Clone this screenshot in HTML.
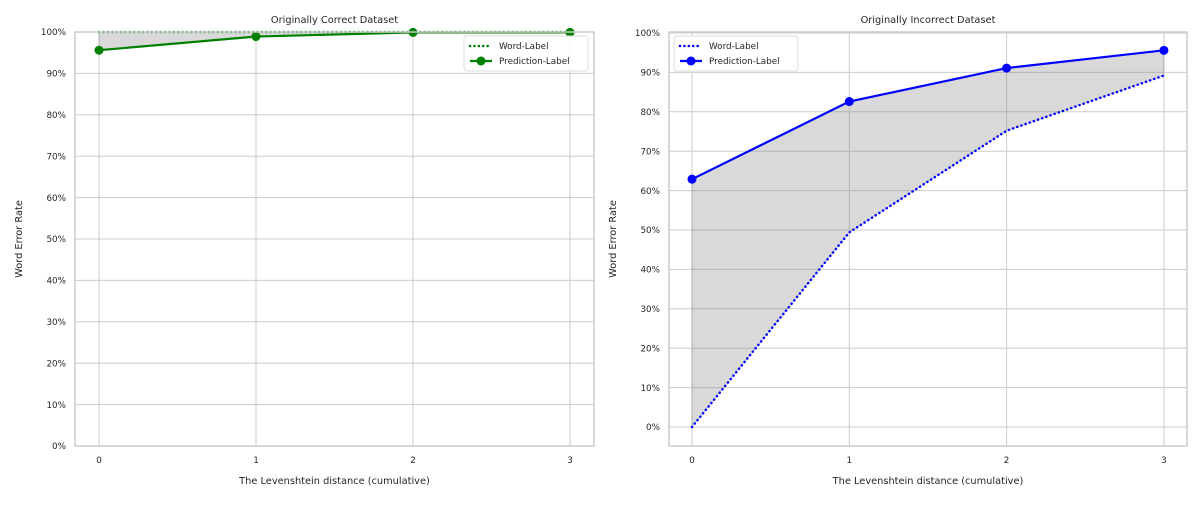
<!DOCTYPE html>
<html><head><meta charset="utf-8"><style>
body{margin:0;background:#fff;font-family:"Liberation Sans","DejaVu Sans",sans-serif;}
svg text{font-family:"DejaVu Sans","Liberation Sans",sans-serif;fill:#262626;}
</style></head><body>
<svg id="c" width="1200" height="500"></svg>
<script>
const categories=[0,1,2,3];
const yTicks=[0,10,20,30,40,50,60,70,80,90,100];
const leftWord=[100,100,100,100];
const leftPred=[95.6,98.9,99.9,99.9];
const rightWord=[0,49.4,75.2,89.2];
const rightPred=[62.9,82.6,91.1,95.6];
const NS="http://www.w3.org/2000/svg";
const svg=document.getElementById('c');
function mk(t,a,p){const e=document.createElementNS(NS,t);for(const k in a)e.setAttribute(k,a[k]);(p||svg).appendChild(e);return e;}
function panel(o){
  const g=mk('g',{});
  
  
  const xs=v=>o.x0+v*o.dx;
  const ys=v=>o.yBase-(v/100)*o.yh;
  categories.forEach(c=>{const l=mk('line',{x1:xs(c),x2:xs(c),y1:o.top,y2:o.bottom,stroke:'#cccccc','stroke-width':1},g);
    
    const t=mk('text',{x:xs(c),y:o.bottom+17,'font-size':8.8,'text-anchor':'middle'},g);t.textContent=c;
    });
  yTicks.forEach(v=>{const l=mk('line',{x1:o.left,x2:o.right,y1:ys(v),y2:ys(v),stroke:'#cccccc','stroke-width':1},g);
    
    const t=mk('text',{x:o.left-9,y:ys(v)+3.2,'font-size':8.8,'text-anchor':'end'},g);t.textContent=v+'%';
    });
  let pts=categories.map((c,i)=>xs(c)+','+ys(o.pred[i]));
  pts=pts.concat(categories.slice().reverse().map((c,j)=>{const i=categories.length-1-j;return xs(c)+','+ys(o.word[i]);}));
  const f=mk('polygon',{points:pts.join(' '),fill:'#808080','fill-opacity':0.3,stroke:'#808080','stroke-opacity':0.3},g);
  
  const wl=mk('polyline',{points:categories.map((c,i)=>xs(c)+','+ys(o.word[i])).join(' '),fill:'none',stroke:o.color,'stroke-width':2.5,'stroke-dasharray':'0.1,4.3','stroke-linecap':'round'},g);
  
  const pl=mk('polyline',{points:categories.map((c,i)=>xs(c)+','+ys(o.pred[i])).join(' '),fill:'none',stroke:o.color,'stroke-width':2.2},g);
  
  categories.forEach((c,i)=>{const m=mk('circle',{cx:xs(c),cy:ys(o.pred[i]),r:4.5,fill:o.color},g);
    });
  const fr=mk('rect',{x:o.left,y:o.top,width:o.right-o.left,height:o.bottom-o.top,fill:'none',stroke:'#cccccc','stroke-width':1.5},g);
  
  const ti=mk('text',{x:(o.left+o.right)/2,y:23,'font-size':9.8,'text-anchor':'middle'},g);ti.textContent=o.title;
  
  const xt=mk('text',{x:(o.left+o.right)/2,y:484,'font-size':9.8,'text-anchor':'middle'},g);xt.textContent='The Levenshtein distance (cumulative)';
  
  const yt=mk('text',{x:0,y:0,'font-size':9.8,'text-anchor':'middle',transform:`translate(${o.left-53},${(o.top+o.bottom)/2}) rotate(-90)`},g);yt.textContent='Word Error Rate';
  
  const lg=mk('g',{},g);
  mk('rect',{x:o.lx,y:o.ly,width:124,height:35,rx:3,fill:'#fff','fill-opacity':0.85,stroke:'#dddddd'},lg);
  mk('line',{x1:o.lx+6,x2:o.lx+28,y1:o.ly+10,y2:o.ly+10,stroke:o.color,'stroke-width':2.5,'stroke-dasharray':'0.1,4.3','stroke-linecap':'round'},lg);
  const t1=mk('text',{x:o.lx+35,y:o.ly+13,'font-size':8.8},lg);t1.textContent='Word-Label';
  
  mk('line',{x1:o.lx+6,x2:o.lx+28,y1:o.ly+25,y2:o.ly+25,stroke:o.color,'stroke-width':2.2},lg);
  mk('circle',{cx:o.lx+17,cy:o.ly+25,r:4.5,fill:o.color},lg);
  const t2=mk('text',{x:o.lx+35,y:o.ly+28,'font-size':8.8},lg);t2.textContent='Prediction-Label';
  
}
panel({name:'left-panel',title:'Originally Correct Dataset',left:75,right:594,top:32,bottom:446,x0:99,dx:157,yBase:446,yh:414,word:leftWord,pred:leftPred,color:'#008000',lx:464,ly:36});
panel({name:'right-panel',title:'Originally Incorrect Dataset',left:669,right:1187,top:32,bottom:446,x0:692,dx:157.3,yBase:427,yh:394,word:rightWord,pred:rightPred,color:'#0000ff',lx:674,ly:36});
</script>
</body></html>
